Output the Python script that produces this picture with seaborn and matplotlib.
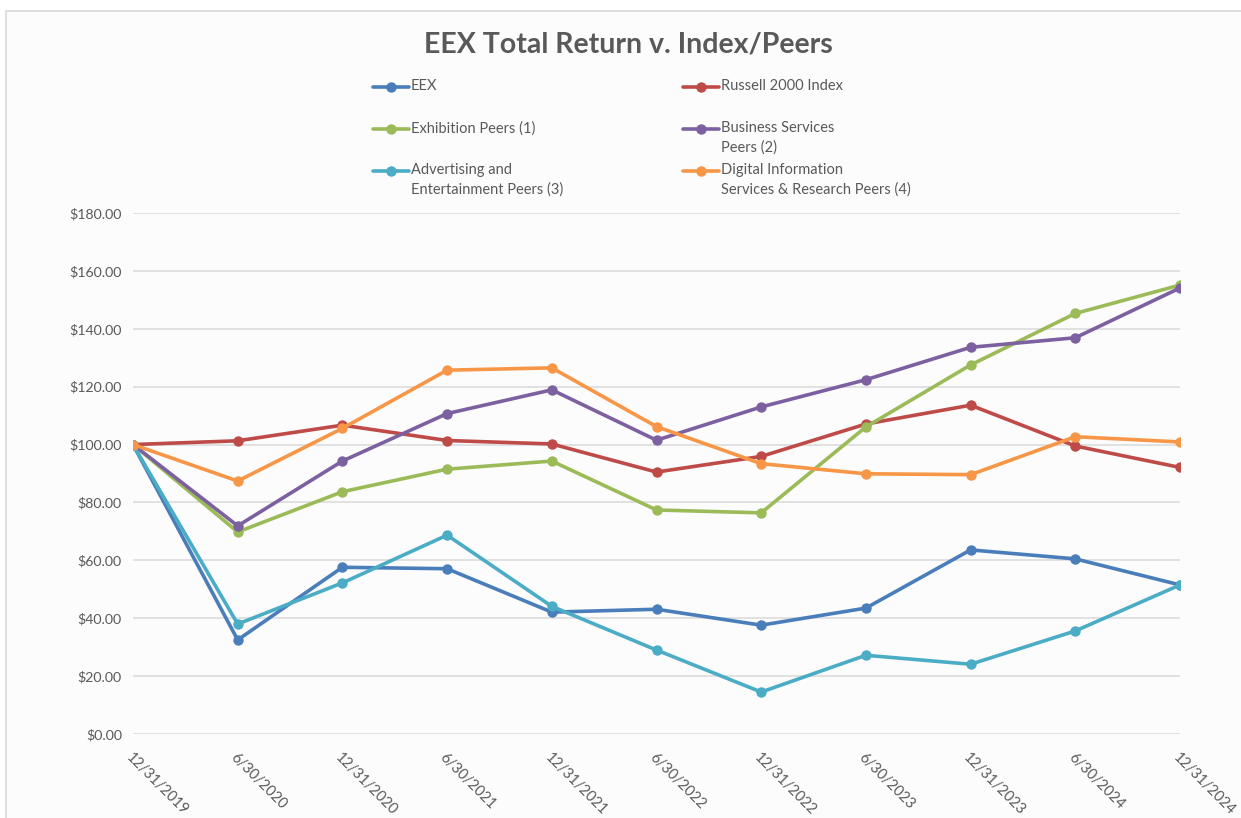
"""EEX total return versus index and peer groups, rebuilt as a seaborn line chart."""
import pandas as pd
import seaborn as sns
import matplotlib.pyplot as plt
from matplotlib.lines import Line2D
from matplotlib.patches import Rectangle

dates = ['12/31/2019', '6/30/2020', '12/31/2020', '6/30/2021', '12/31/2021', '6/30/2022',
         '12/31/2022', '6/30/2023', '12/31/2023', '6/30/2024', '12/31/2024']

eex = [100, 32.5, 57.6, 57.1, 42.1, 43.1, 37.6, 43.5, 63.6, 60.5, 51.5]
russell = [100, 101.3, 106.7, 101.4, 100.2, 90.5, 95.9, 107.1, 113.6, 99.5, 92.1]
exhibition = [100, 69.8, 83.7, 91.5, 94.3, 77.4, 76.4, 106.1, 127.5, 145.3, 155.1]
business = [100, 71.9, 94.3, 110.7, 118.9, 101.5, 113.0, 122.4, 133.6, 136.9, 154.1]
advertising = [100, 38.0, 52.2, 68.7, 44.1, 29.0, 14.5, 27.2, 24.1, 35.6, 51.5]
digital = [100, 87.4, 105.6, 125.7, 126.5, 106.2, 93.4, 89.9, 89.6, 102.7, 100.9]

names = ['EEX', 'Russell 2000 Index', 'Exhibition Peers (1)', 'Business Services\nPeers (2)',
         'Advertising and\nEntertainment Peers (3)', 'Digital Information\nServices & Research Peers (4)']
colors = ['#4A7EBB', '#BE4B48', '#9BBB59', '#7D60A0', '#4BACC6', '#F79646']
series = [eex, russell, exhibition, business, advertising, digital]

rows = []
for name, vals in zip(names, series):
    for i, v in enumerate(vals):
        rows.append({'idx': i, 'value': v, 'series': name})
df = pd.DataFrame(rows)

sns.set_style('white')
plt.rcParams['font.family'] = ['Lato', 'DejaVu Sans']
txt = '#595959'

fig = plt.figure(figsize=(12.41, 8.18), dpi=100)
fig.patch.set_facecolor('white')
fig.add_artist(Rectangle((6 / 1241, -0.01), 1.0, 1 - 11 / 818 + 0.01, transform=fig.transFigure,
                         facecolor='#FCFCFC', edgecolor='#D9D9D9', linewidth=1.2, zorder=0))

ax = fig.add_axes([133 / 1241, 1 - 734 / 818, (1180 - 133) / 1241, (734 - 213) / 818])
ax.set_facecolor('none')

sns.lineplot(data=df, x='idx', y='value', hue='series', hue_order=names,
             palette=dict(zip(names, colors)), marker='o', markersize=7.5, markeredgewidth=0,
             linewidth=2.6, legend=False, ax=ax, zorder=3)

ax.set_xlim(0, len(dates) - 1)
ax.set_ylim(0, 180)
ax.set_yticks(range(0, 181, 20))
ax.set_yticklabels(['$%.2f' % v for v in range(0, 181, 20)], color=txt, fontsize=10.2)
ax.set_xticks(range(len(dates)))
ax.set_xticklabels(dates, rotation=-45, ha='left', va='top', rotation_mode='anchor',
                   color=txt, fontsize=10.5)
ax.tick_params(axis='x', pad=12, length=0)
ax.tick_params(axis='y', pad=8, length=0)
ax.grid(axis='y', color='#D9D9D9', linewidth=1.1)
ax.set_axisbelow(True)
for s in ax.spines.values():
    s.set_visible(False)
ax.set_xlabel('')
ax.set_ylabel('')

fig.text(0.5 + 8 / 1241, 1 - 45 / 818, 'EEX Total Return v. Index/Peers', ha='center', va='center',
         fontsize=20.5, fontweight='bold', color=txt)

# legend laid out by hand, two columns
leg_x = [373, 683]
leg_y = [87, 129, 171]
for k, (name, col) in enumerate(zip(names, colors)):
    x0 = leg_x[k % 2]
    y0 = leg_y[k // 2]
    yf = 1 - y0 / 818
    fig.add_artist(Line2D([x0 / 1241, (x0 + 36) / 1241], [yf, yf], transform=fig.transFigure,
                          color=col, linewidth=2.6, solid_capstyle='round'))
    fig.add_artist(Line2D([(x0 + 18) / 1241], [yf], transform=fig.transFigure,
                          color=col, marker='o', markersize=7.5, markeredgewidth=0))
    fig.text((x0 + 38) / 1241, yf + 8 / 818, name, ha='left', va='top', fontsize=10.5,
             color=txt, linespacing=1.45)

fig.savefig('out.png', dpi=100)
